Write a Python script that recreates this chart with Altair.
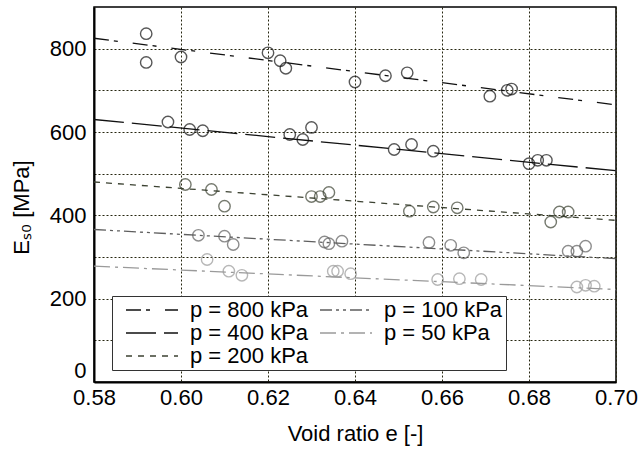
import altair as alt
import pandas as pd

labels = ["p = 800 kPa", "p = 400 kPa", "p = 200 kPa", "p = 100 kPa", "p = 50 kPa"]

e800 = [0.592, 0.592, 0.600, 0.620, 0.6228, 0.6241, 0.640, 0.647, 0.652, 0.671, 0.675, 0.676]
E800 = [836, 767, 780, 790, 771, 753, 720, 735, 742, 686, 700, 703]

e400 = [0.597, 0.602, 0.605, 0.625, 0.628, 0.630, 0.649, 0.653, 0.658, 0.680, 0.682, 0.684]
E400 = [624, 606, 603, 594, 582, 611, 558, 570, 554, 524, 532, 532]

e200 = [0.601, 0.607, 0.610, 0.630, 0.632, 0.634, 0.6525, 0.658, 0.6635, 0.685, 0.687, 0.689]
E200 = [474, 462, 422, 445, 445, 455, 410, 420, 418, 384, 408, 408]

e100 = [0.604, 0.610, 0.612, 0.633, 0.634, 0.637, 0.657, 0.662, 0.665, 0.689, 0.691, 0.693]
E100 = [352, 350, 330, 336, 332, 338, 335, 328, 310, 314, 314, 326]

e50 = [0.606, 0.611, 0.614, 0.635, 0.636, 0.639, 0.659, 0.664, 0.669, 0.691, 0.693, 0.695]
E50 = [294, 266, 256, 266, 266, 260, 246, 248, 246, 228, 232, 230]

# fitted trend lines, value at e = 0.58 and e = 0.70
fit_e = [0.58, 0.70]
fit800 = [825, 665]
fit400 = [630, 507]
fit200 = [480, 388]
fit100 = [366, 296]
fit50 = [278, 222]

colors = ["#111111", "#111111", "#3c4232", "#5e5e5e", "#9a9a9a"]
dashes = [[15, 5, 4, 15], [30, 8], [6, 6], [12, 4, 3, 4, 3, 4], [16, 5, 3, 5]]

pts_e = [e800, e400, e200, e100, e50]
pts_E = [E800, E400, E200, E100, E50]
fits = [fit800, fit400, fit200, fit100, fit50]

prow = []
lrow = []
for i, lab in enumerate(labels):
    for a, b in zip(pts_e[i], pts_E[i]):
        prow.append({"e": a, "E": b, "label": lab, "col": colors[i]})
    for a, b in zip(fit_e, fits[i]):
        lrow.append({"e": a, "E": b, "label": lab})
pdf = pd.DataFrame(prow)
ldf = pd.DataFrame(lrow)

FONT = "Liberation Sans"
GRID = "#262610"

xscale = alt.Scale(domain=[0.58, 0.70], nice=False, zero=False)
yscale = alt.Scale(domain=[0, 900], nice=False)

xaxis = alt.Axis(values=[0.58, 0.60, 0.62, 0.64, 0.66, 0.68, 0.70], format=".2f",
                 title="Void ratio e [-]", grid=True, gridDash=[2, 2], gridColor=GRID,
                 gridOpacity=1, gridWidth=1, ticks=False, labelFlush=False,
                 labelFontSize=22, titleFontSize=22, labelPadding=5, titlePadding=15,
                 labelFont=FONT, titleFont=FONT, labelColor="#000", titleColor="#000",
                 titleFontWeight="normal", domainColor="#000", domainWidth=2)
yaxis = alt.Axis(values=list(range(0, 900, 100)),
                 labelExpr="datum.value % 200 == 0 ? datum.label : ''",
                 labelBaseline={"condition": {"test": "datum.value === 0", "value": "bottom"},
                                "value": "middle"},
                 title="Eₛ₀ [MPa]", grid=True, gridDash=[2, 2], gridColor=GRID,
                 gridOpacity=1, gridWidth=1, ticks=False, labelFlush=False,
                 labelFontSize=22, titleFontSize=22, labelPadding=8, titlePadding=16,
                 titleY=200,
                 labelFont=FONT, titleFont=FONT, labelColor="#000", titleColor="#000",
                 titleFontWeight="normal", domainColor="#000", domainWidth=2)

legend = alt.Legend(orient="none", legendX=18, legendY=289, columns=2, title=None,
                    symbolType="M0,0H10.4", symbolSize=100, symbolStrokeWidth=1.3,
                    labelFont=FONT, labelFontSize=22, labelColor="#000",
                    labelOffset=53, columnPadding=-3, rowPadding=1,
                    padding=3, strokeColor="#333333", fillColor="#ffffff",
                    cornerRadius=0)

lines = alt.Chart(ldf).mark_line(strokeWidth=1.3).encode(
    x=alt.X("e:Q", scale=xscale, axis=xaxis),
    y=alt.Y("E:Q", scale=yscale, axis=yaxis),
    color=alt.Color("label:N", scale=alt.Scale(domain=labels, range=colors), legend=legend),
    strokeDash=alt.StrokeDash("label:N", scale=alt.Scale(domain=labels, range=dashes), legend=legend),
    detail="label:N",
)

points = alt.Chart(pdf).mark_point(shape="circle", filled=False, size=130, strokeWidth=1.4).encode(
    x=alt.X("e:Q", scale=xscale),
    y=alt.Y("E:Q", scale=yscale),
    stroke=alt.Stroke("col:N", scale=None),
)

chart = alt.layer(lines, points).properties(
    width=522, height=375,
    autosize=alt.AutoSizeParams(type="none"),
    padding={"left": 94, "top": 7, "right": 22, "bottom": 70},
    background="white",
).configure_view(stroke="#000", strokeWidth=1.5)

chart.save("out.html", embed_options={"renderer": "svg", "actions": False})
